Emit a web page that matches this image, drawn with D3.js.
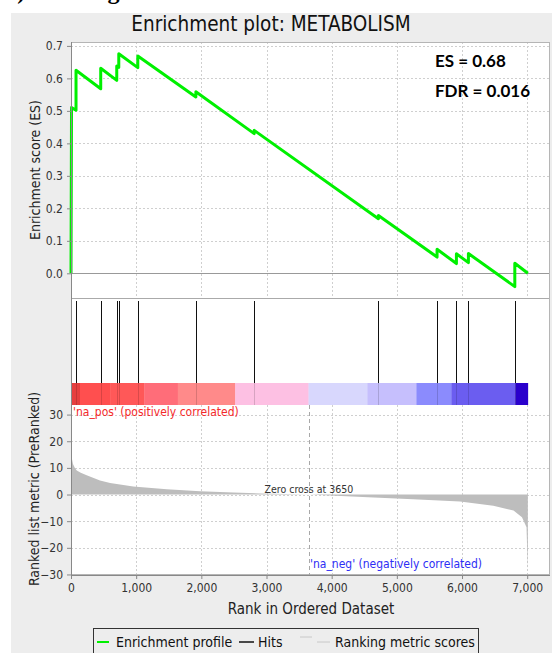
<!DOCTYPE html>
<html>
<head>
<meta charset="utf-8">
<script src="https://cdn.jsdelivr.net/npm/d3@7"></script>
<style>
body { margin: 0; background: #fff; }
text { font-family: "DejaVu Sans", sans-serif; font-stretch: condensed; }
</style>
</head>
<body>
<svg id="chart"></svg>
<script>
// running enrichment score (two points at each hit: before / after the jump)
var esRanks = [0, 8, 77, 77, 456, 456, 702, 702, 733, 733, 1025, 1025, 1916, 1916, 2811, 2811, 4717, 4717, 5617, 5617, 5914, 5914, 6098, 6098, 6810, 6810, 7010]
var esValues = [0, 0.51, 0.502, 0.625, 0.568, 0.631, 0.594, 0.638, 0.634, 0.676, 0.633, 0.669, 0.543, 0.559, 0.430, 0.440, 0.168, 0.178, 0.050, 0.074, 0.030, 0.060, 0.033, 0.061, -0.041, 0.031, 0.0]
// positions of the gene set members in the ranked list
var hitRanks = [4, 77, 456, 702, 733, 1025, 1916, 2811, 4717, 5617, 5914, 6098, 6810]
// ranked list metric profile
var metricRanks = [0, 10, 30, 60, 88, 150, 240, 445, 600, 955, 1470, 1980, 2490, 2900, 3650, 4560, 5250, 5970, 6480, 6790, 6920, 6990, 7005, 7010]
var metricValues = [17.5, 14, 11.5, 10, 9.0, 8.2, 7.2, 5.3, 4.3, 3.0, 2.0, 1.25, 0.75, 0.4, 0, -1.0, -1.8, -2.6, -4.2, -6.0, -8.5, -12.3, -25, -28]
// heat bar under the hits
var barStarts = [0, 138, 600, 1126, 1639, 2519, 3645, 4547, 5300, 5837, 6820]
var barEnds = [138, 600, 1126, 1639, 2519, 3645, 4547, 5300, 5837, 6820, 7010]
var barColors = ["#e63f3f", "#ff4f4f", "#ff5858", "#ff6d79", "#ff8a8a", "#fdc0e3", "#d8d7fd", "#c6bffd", "#8b8bfd", "#6b5df0", "#2a00cc"]
var xTicks = [0, 1000, 2000, 3000, 4000, 5000, 6000, 7000]
var esTicks = [0, 0.1, 0.2, 0.3, 0.4, 0.5, 0.6, 0.7]
var metricTicks = [-30, -20, -10, 0, 10, 20, 30]
var zeroCross = 3650
var title = "Enrichment plot: METABOLISM"
var statLines = ["ES = 0.68", "FDR = 0.016"]

var W = 552, H = 653
var svg = d3.select("#chart").attr("width", W).attr("height", H)

// panel layout
var left = 71, right = 550,
    esTop = 42, esBottom = 298,
    hitTop = 301, barTop = 383, barBottom = 405,
    mTop = 405, mBottom = 575

var x = d3.scaleLinear().domain([0, 7350]).range([left, right])
var yEs = d3.scaleLinear().domain([-0.076, 0.712]).range([esBottom, esTop])
var yM = d3.scaleLinear().domain([-30.2, 33.6]).range([mBottom, mTop])

// caption of the surrounding figure, cut by the crop: only its descenders show
svg.append("text").attr("x", 4).attr("y", -1).attr("font-weight", "bold")
    .attr("font-size", 24).attr("fill", "#000").style("font-family", "Liberation Serif").style("font-stretch", "normal").text("b) Ranking")
svg.append("rect").attr("x", 11).attr("y", 13).attr("width", W - 11).attr("height", H - 13).attr("fill", "#ededed")

svg.append("text").attr("x", 271).attr("y", 31).attr("text-anchor", "middle").attr("font-size", 20.5).attr("fill", "#111").text(title)

// white plot areas
svg.append("rect").attr("x", left).attr("y", esTop).attr("width", right - left).attr("height", mBottom - esTop).attr("fill", "#fff")

var grid = svg.append("g").attr("stroke", "#cfcfcf").attr("stroke-dasharray", "2,2").attr("stroke-width", 1)
grid.selectAll(".esh").data(esTicks.filter(d => d > 0)).join("line").attr("x1", left).attr("x2", right)
    .attr("y1", d => Math.round(yEs(d)) + 0.5).attr("y2", d => Math.round(yEs(d)) + 0.5)
grid.selectAll(".esv").data(xTicks.filter(d => d > 0)).join("line").attr("class", "esv")
    .attr("x1", d => Math.round(x(d)) + 0.5).attr("x2", d => Math.round(x(d)) + 0.5).attr("y1", esTop).attr("y2", esBottom)
grid.selectAll(".mh").data(metricTicks).join("line").attr("class", "mh").attr("x1", left).attr("x2", right)
    .attr("y1", d => Math.round(yM(d)) + 0.5).attr("y2", d => Math.round(yM(d)) + 0.5)
grid.selectAll(".mv").data(xTicks.filter(d => d > 0)).join("line").attr("class", "mv")
    .attr("x1", d => Math.round(x(d)) + 0.5).attr("x2", d => Math.round(x(d)) + 0.5).attr("y1", mTop).attr("y2", mBottom)

// ES zero line
svg.append("line").attr("x1", left).attr("x2", right).attr("y1", Math.round(yEs(0)) + 0.5).attr("y2", Math.round(yEs(0)) + 0.5)
    .attr("stroke", "#999")

// panel separators / frame
svg.append("line").attr("x1", left).attr("x2", right).attr("y1", esBottom + 0.5).attr("y2", esBottom + 0.5).attr("stroke", "#aaa")
svg.append("rect").attr("x", left + 0.5).attr("y", esTop + 0.5).attr("width", right - left - 1).attr("height", mBottom - esTop - 1)
    .attr("fill", "none").attr("stroke", "#b5b5b5")

// ES profile
var esData = esRanks.map((r, i) => [r, esValues[i]])
svg.append("path").attr("d", d3.line().x(d => x(d[0])).y(d => yEs(d[1]))(esData))
    .attr("fill", "none").attr("stroke", "#00f000").attr("stroke-width", 3).attr("stroke-linejoin", "round")

svg.selectAll(".stat").data(statLines).join("text").attr("class", "stat")
    .attr("x", 435).attr("y", (d, i) => 67 + i * 30).attr("font-size", 17).attr("font-weight", "bold")
    .style("font-family", "Lato, 'Open Sans', sans-serif").style("font-stretch", "normal").attr("fill", "#000").text(d => d)

// heat bar
svg.selectAll(".bar").data(barColors).join("rect").attr("class", "bar")
    .attr("x", (d, i) => x(barStarts[i])).attr("width", (d, i) => x(barEnds[i]) - x(barStarts[i]) + 0.3)
    .attr("y", barTop).attr("height", barBottom - barTop).attr("fill", d => d)

// hits
svg.selectAll(".hit").data(hitRanks).join("line").attr("class", "hit")
    .attr("x1", d => Math.round(x(d)) + 0.5).attr("x2", d => Math.round(x(d)) + 0.5)
    .attr("y1", hitTop).attr("y2", barTop).attr("stroke", "#111").attr("stroke-width", 1)
svg.selectAll(".hitbar").data(hitRanks).join("line").attr("class", "hitbar")
    .attr("x1", d => Math.round(x(d)) + 0.5).attr("x2", d => Math.round(x(d)) + 0.5)
    .attr("y1", barTop).attr("y2", barBottom).attr("stroke", "rgba(0,0,0,0.15)").attr("stroke-width", 1)

// ranked metric
var mData = metricRanks.map((r, i) => [r, metricValues[i]])
svg.append("path").attr("d", d3.area().x(d => x(d[0])).y0(yM(0)).y1(d => yM(d[1]))(mData)).attr("fill", "#bdbdbd")

svg.append("line").attr("x1", Math.round(x(zeroCross)) + 0.5).attr("x2", Math.round(x(zeroCross)) + 0.5)
    .attr("y1", mTop).attr("y2", mBottom).attr("stroke", "#a8a8a8").attr("stroke-dasharray", "4,3")
svg.append("text").attr("x", x(zeroCross)).attr("y", 493).attr("text-anchor", "middle").attr("font-size", 10.5)
    .attr("fill", "#333").text("Zero cross at " + zeroCross)

svg.append("text").attr("x", 73).attr("y", 416).attr("font-size", 12).attr("fill", "#f42a2a").text("'na_pos' (positively correlated)")
svg.append("text").attr("x", 310).attr("y", 568).attr("font-size", 12).attr("fill", "#2e2ef5").text("'na_neg' (negatively correlated)")

// axes
function styleAxis(g) {
    g.select(".domain").attr("stroke", "#888")
    g.selectAll(".tick line").attr("stroke", "#888")
    g.selectAll(".tick text").attr("font-size", 12).attr("fill", "#333").attr("font-family", null)
}
svg.append("g").attr("transform", "translate(" + left + ",0)")
    .call(d3.axisLeft(yEs).tickValues(esTicks).tickFormat(d3.format(".1f")).tickSize(4).tickPadding(4))
    .call(g => g.select(".domain").remove()).call(styleAxis)
svg.append("g").attr("transform", "translate(" + left + ",0)")
    .call(d3.axisLeft(yM).tickValues(metricTicks).tickSize(4).tickPadding(4))
    .call(g => g.select(".domain").remove()).call(styleAxis)
svg.append("g").attr("transform", "translate(0," + mBottom + ")")
    .call(d3.axisBottom(x).tickValues(xTicks).tickFormat(d3.format(",")).tickSize(4).tickPadding(4))
    .call(g => g.select(".domain").remove()).call(styleAxis)
svg.append("line").attr("x1", left + 0.5).attr("x2", left + 0.5).attr("y1", esTop).attr("y2", mBottom).attr("stroke", "#888")
svg.append("line").attr("x1", left).attr("x2", right).attr("y1", mBottom + 0.5).attr("y2", mBottom + 0.5).attr("stroke", "#888")

// axis titles
svg.append("text").attr("transform", "translate(40,170) rotate(-90)").attr("text-anchor", "middle")
    .attr("font-size", 14).attr("fill", "#222").text("Enrichment score (ES)")
svg.append("text").attr("transform", "translate(39,489) rotate(-90)").attr("text-anchor", "middle")
    .attr("font-size", 14).attr("fill", "#222").text("Ranked list metric (PreRanked)")
svg.append("text").attr("x", 311).attr("y", 614).attr("text-anchor", "middle")
    .attr("font-size", 15).attr("fill", "#222").text("Rank in Ordered Dataset")

// legend
var lg = svg.append("g")
lg.append("rect").attr("x", 93.5).attr("y", 628.5).attr("width", 385).attr("height", 30).attr("fill", "#ededed").attr("stroke", "#333")
lg.append("line").attr("x1", 97).attr("x2", 109).attr("y1", 642).attr("y2", 642).attr("stroke", "#00f000").attr("stroke-width", 2)
lg.append("text").attr("x", 116).attr("y", 647).attr("font-size", 14).attr("fill", "#111").text("Enrichment profile")
lg.append("line").attr("x1", 239).attr("x2", 254).attr("y1", 642).attr("y2", 642).attr("stroke", "#111").attr("stroke-width", 1.5)
lg.append("text").attr("x", 258).attr("y", 647).attr("font-size", 14).attr("fill", "#111").text("Hits")
lg.append("line").attr("x1", 300).attr("x2", 312).attr("y1", 637).attr("y2", 637).attr("stroke", "#c8c8c8")
lg.append("line").attr("x1", 317).attr("x2", 330).attr("y1", 642).attr("y2", 642).attr("stroke", "#c8c8c8")
lg.append("text").attr("x", 335).attr("y", 647).attr("font-size", 14).attr("fill", "#111").text("Ranking metric scores")
</script>
</body>
</html>
